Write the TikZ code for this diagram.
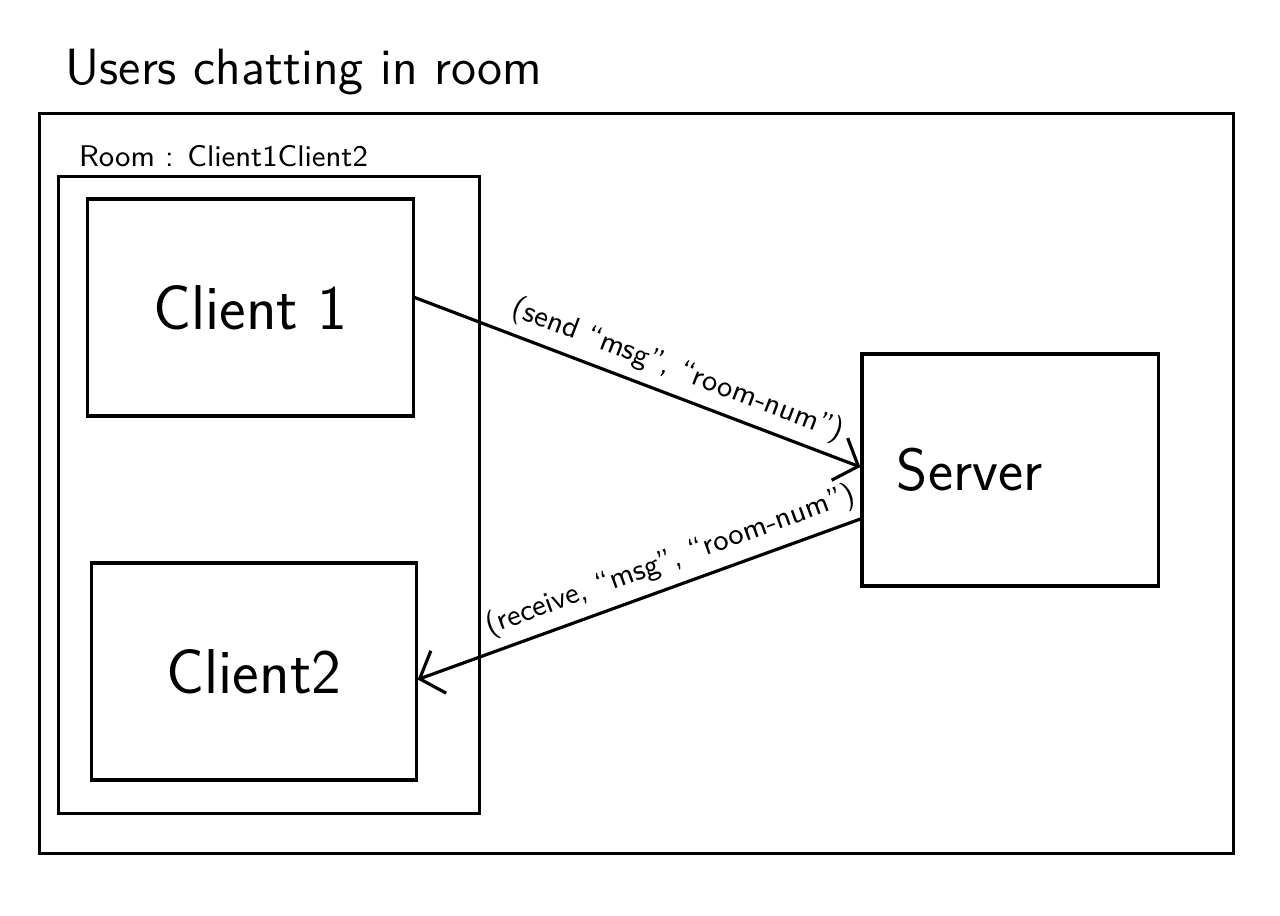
\documentclass[tikz,border=0pt]{standalone}
\usetikzlibrary{positioning,arrows.meta}

\begin{document}
\begin{tikzpicture}[
    x=0.01cm, y=-0.01cm,
    box/.style={draw, line width=0.9pt, inner sep=0pt},
    client/.style={box, minimum width=3.25cm, minimum height=2.17cm,
      font=\sffamily\fontsize{18}{20}\selectfont},
    msg/.style={draw, line width=0.9pt, -{Straight Barb[length=0.2cm, width=0.45cm]}},
    lbl/.style={font=\sffamily\fontsize{8.5}{10}\selectfont, sloped, above, inner sep=2.5pt},
  ]
  \useasboundingbox (0,0) rectangle (1280,915);
  \node[anchor=west, inner sep=0pt, font=\sffamily\fontsize{14.5}{17}\selectfont]
    (title) at (65,72) {Users chatting in room};
  \node[box, minimum width=11.93cm, minimum height=7.39cm] (cadre) at (636.5,483.5) {};
  \node[box, minimum width=4.20cm, minimum height=6.36cm] (room) at (269,495) {};
  \node[above right=0.08cm and 0.21cm of room.north west, inner sep=0pt,
    font=\sffamily\fontsize{8.5}{10}\selectfont] (roomlbl) {Room : Client1Client2};
  \node[client] (client1) at (250.5,307.5) {Client 1};
  \node[client, minimum width=3.24cm] (client2) at (254,671.5) {Client2};
  \node[box, minimum height=2.32cm, text width=2.26cm, inner xsep=0.35cm, align=left,
    font=\sffamily\fontsize{17}{19}\selectfont] (server) at (1010,470) {Server};
  % messages entre clients et serveur
  \draw[msg] ([yshift=0.1cm]client1.east) -- ([yshift=0.03cm]server.west)
    node[lbl, pos=0.57] {(send ``msg'', ``room-num'')};
  \draw[msg] ([yshift=-0.49cm]server.west) -- ([yshift=-0.08cm]client2.east)
    node[lbl, pos=0.41] {(receive, ``msg'', ``room-num'')};
\end{tikzpicture}
\end{document}
